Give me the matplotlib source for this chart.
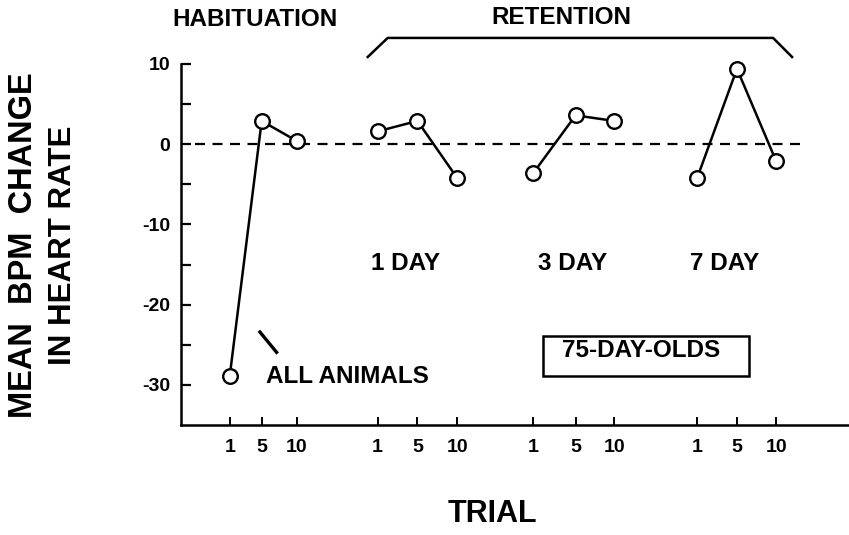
import matplotlib
matplotlib.use("Agg")
import matplotlib.pyplot as plt
from matplotlib.patches import Rectangle

plt.rcParams['font.family'] = ['Liberation Sans', 'DejaVu Sans']
plt.rcParams['font.weight'] = 'bold'
plt.rcParams['lines.scale_dashes'] = False

# ---- data ----
group_names = ['HABITUATION', '1 DAY', '3 DAY', '7 DAY']
trial_labels = ['1', '5', '10']
# category positions of trials 1, 5, 10 within each block
x_hab = [1.22, 2.02, 2.90]
x_day1 = [4.92, 5.92, 6.92]
x_day3 = [8.82, 9.88, 10.85]
x_day7 = [12.92, 13.92, 14.90]
hab = [-28.9, 2.9, 0.4]
day1 = [1.6, 2.9, -4.25]
day3 = [-3.6, 3.6, 2.9]
day7 = [-4.25, 9.4, -2.1]
y_major = [-30, -20, -10, 0, 10]
y_minor = [-25, -15, -5, 5]

W, H = 849, 535
fig = plt.figure(figsize=(W / 100, H / 100), dpi=100)
ax = fig.add_axes([181 / W, (H - 425) / H, 667 / W, (425 - 64) / H])
ax.set_xlim(0, 16.7)
ax.set_ylim(-35, 10)

lw = 1.8
ax.axhline(0, xmin=14 / 667, xmax=621 / 667, color='black', lw=1.6,
           dashes=(7.2, 5.4), zorder=1)

for xs, ys in [(x_hab, hab), (x_day1, day1), (x_day3, day3), (x_day7, day7)]:
    ax.plot(xs, ys, color='black', lw=lw, marker='o', ms=10.5,
            mfc='white', mec='black', mew=1.7, zorder=3, clip_on=False)

# ticks
all_x = x_hab + x_day1 + x_day3 + x_day7
ax.set_xticks(all_x)
ax.set_xticklabels(trial_labels * 4)
ax.set_yticks(y_major)
ax.set_yticklabels([str(v) for v in y_major])
ax.set_yticks(y_minor, minor=True)
ax.tick_params(axis='y', which='both', direction='in', length=7.5, width=1.6,
               pad=8, labelsize=14)
ax.tick_params(axis='x', which='both', direction='in', length=5.5, width=1.4,
               pad=10, labelsize=14)
for lab in ax.get_xticklabels() + ax.get_yticklabels():
    lab.set_fontweight('bold')

for s in ['top', 'right']:
    ax.spines[s].set_visible(False)
for s in ['left', 'bottom']:
    ax.spines[s].set_linewidth(1.8)

fs = 17.5
# block labels
ax.text(5.625, -14.9, group_names[1], ha='center', va='center', fontsize=fs, fontweight='bold')
ax.text(9.8, -14.9, group_names[2], ha='center', va='center', fontsize=fs, fontweight='bold')
ax.text(13.6, -14.9, group_names[3], ha='center', va='center', fontsize=fs, fontweight='bold')

# ALL ANIMALS annotation
ax.text(2.125, -28.9, 'ALL ANIMALS', ha='left', va='center', fontsize=fs, fontweight='bold')
ax.plot([1.95, 2.42], [-23.25, -26.1], color='black', lw=2.4, solid_capstyle='butt')

# 75-DAY-OLDS box
ax.add_patch(Rectangle((9.075, -28.875), 14.225 - 9.075, 5.0, fill=False,
                       ec='black', lw=1.8))
ax.text(11.525, -25.75, '75-DAY-OLDS', ha='center', va='center', fontsize=fs, fontweight='bold')

# retention bracket
ax.plot([4.675, 5.175, 14.825, 15.3], [10.875, 13.25, 13.25, 10.875],
        color='black', lw=1.8, clip_on=False)

fig.text(255 / W, 1 - 20 / H, group_names[0], ha='center', va='center', fontsize=fs, fontweight='bold')
fig.text(561 / W, 1 - 18 / H, 'RETENTION', ha='center', va='center', fontsize=fs, fontweight='bold')

# axis titles
fig.text(24 / W, 1 - 245 / H, 'MEAN  BPM  CHANGE', rotation=90, ha='center', va='center',
         fontsize=23.5, fontweight='bold')
fig.text(63 / W, 1 - 245 / H, 'IN HEART RATE', rotation=90, ha='center', va='center',
         fontsize=22.5, fontweight='bold')
fig.text(492 / W, 1 - 514 / H, 'TRIAL', ha='center', va='center', fontsize=22, fontweight='bold')

fig.savefig('out.png', dpi=100, facecolor='white')
